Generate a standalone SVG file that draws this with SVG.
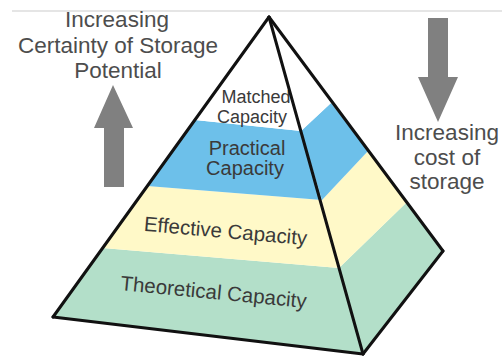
<svg xmlns="http://www.w3.org/2000/svg" width="502" height="358" viewBox="0 0 502 358">
<style>
.lbl{font-family:"Liberation Sans",Arial,sans-serif;fill:#3a3a3a;text-anchor:middle}
.side{font-family:"Liberation Sans",Arial,sans-serif;fill:#4d4d4d;text-anchor:middle;font-size:22.5px}
.edge{fill:none;stroke:#111111;stroke-width:3;stroke-linecap:round}
.arrow{fill:#808080}
</style>
<rect width="502" height="358" fill="#fff"/>
<line x1="12" y1="11" x2="502" y2="11" stroke="#dcdcdc" stroke-width="1.5"/>

<g id="left-label">
<text class="side" x="117" y="27">Increasing</text>
<text class="side" x="118" y="53">Certainty of Storage</text>
<text class="side" x="118" y="78">Potential</text>
</g>
<g id="up-arrow">
<polygon class="arrow" points="113,85 133,128 124,128 124,187 104,187 104,128 94,128"/>
</g>
<g id="right-label">
<text class="side" x="447" y="140">Increasing</text>
<text class="side" x="447" y="165">cost of</text>
<text class="side" x="447" y="189">storage</text>
</g>
<g id="down-arrow">
<polygon class="arrow" points="428,18 448,18 448,77 458,77 438,122 418,77 428,77"/>
</g>

<g id="theoretical">
<polygon fill="#b3dfc9" points="102.7,248 339,268 363,354 53,317"/>
<polygon fill="#b3dfc9" points="339,268 407,202 443,251 363,354"/>
<text class="lbl" font-size="20.5" transform="translate(213,299) rotate(5.5)">Theoretical Capacity</text>
</g>
<g id="effective">
<polygon fill="#fff9c8" points="147.3,186 322,200 339,268 102.7,248"/>
<polygon fill="#fff9c8" points="322,200 368,151 407,202 339,268"/>
<text class="lbl" font-size="20.5" transform="translate(225,238) rotate(5)">Effective Capacity</text>
</g>
<g id="practical">
<polygon fill="#6dc0ea" points="195,120 301,131 322,200 147.3,186"/>
<polygon fill="#6dc0ea" points="301,131 331,103 368,151 322,200"/>
<text class="lbl" font-size="20" x="247" y="155">Practical</text>
<text class="lbl" font-size="20" x="245" y="175">Capacity</text>
</g>
<g id="matched">
<polygon fill="#ffffff" points="269,17 301,131 195,120"/>
<polygon fill="#ffffff" points="269,17 331,103 301,131"/>
<text class="lbl" font-size="18" x="256" y="103">Matched</text>
<text class="lbl" font-size="18" x="252" y="123">Capacity</text>
</g>

<g id="connectors">
<line class="edge" x1="269" y1="17" x2="53" y2="317"/>
<line class="edge" x1="53" y1="317" x2="363" y2="354"/>
<line class="edge" x1="363" y1="354" x2="443" y2="251"/>
<line class="edge" x1="443" y1="251" x2="269" y2="17"/>
<line class="edge" x1="269" y1="17" x2="363" y2="354" stroke-width="3.5"/>
</g>
</svg>
